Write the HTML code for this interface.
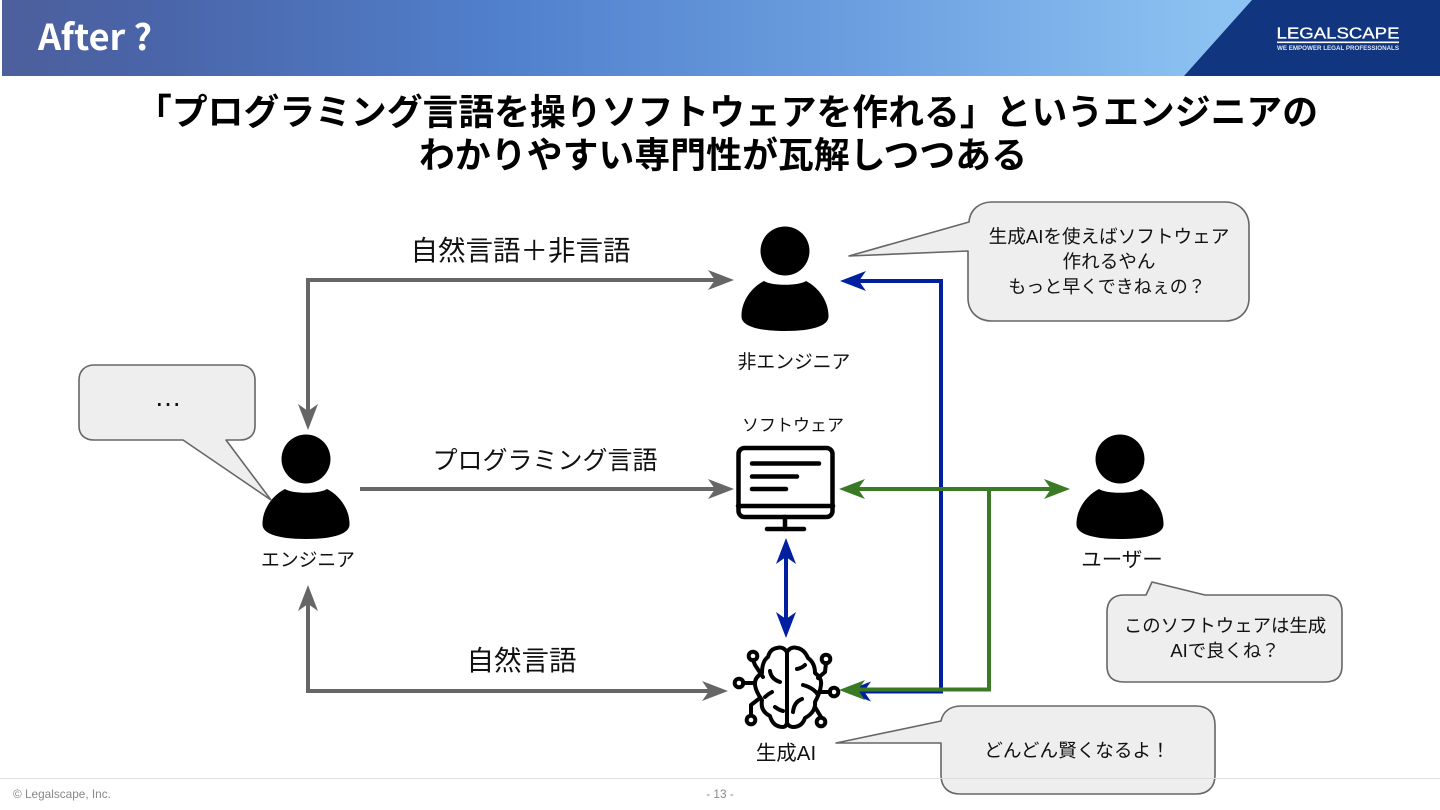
<!DOCTYPE html>
<html lang="ja"><head><meta charset="utf-8"><title>After ?</title>
<style>
html,body{margin:0;padding:0;background:#fff}
svg{display:block}
text{font-family:"Liberation Sans","Noto Sans CJK JP",sans-serif;fill:#000;text-anchor:middle}
.t{font-size:35.8px;font-weight:700;fill:#000}
.l{font-size:27.5px;font-weight:400;fill:#111}
.s{font-size:18.8px;fill:#111}
.b{font-size:18.6px;fill:#111}
.f{font-size:11.8px;fill:#888}
.bub{fill:#eee;stroke:#666;stroke-width:1.6;stroke-linejoin:round}
.g{stroke:#666;fill:none;stroke-width:4}
.bl{stroke:#00209f;fill:none;stroke-width:4}
.gr{stroke:#3a7a25;fill:none;stroke-width:4}
</style></head>
<body>
<svg width="1440" height="810" viewBox="0 0 1440 810" xmlns="http://www.w3.org/2000/svg">
<defs>
<linearGradient id="hd" x1="0" x2="1" y1="0" y2="0">
<stop offset="0" stop-color="#4d5f9c"/><stop offset=".1" stop-color="#4a64a8"/><stop offset=".35" stop-color="#5180cc"/><stop offset=".6" stop-color="#6c9fe0"/><stop offset=".85" stop-color="#8cc3f2"/>
</linearGradient>
<g id="p">
<circle cx="0" cy="0" r="24.5" fill="#000"/>
<path d="M-21 30 C-14 35 14 35 21 30 C33 36 44 50 43.500 66 C43 74 30 80 0 80 C-30 80 -43 74 -43.500 66 C-44 50 -33 36 -21 30Z" fill="#000"/>
</g>
<path id="ah" d="M0 0 L-26 -10 L-19 0 L-26 10Z"/>
</defs>

<!-- header -->
<rect x="2" y="0" width="1438" height="76" fill="url(#hd)"/>
<path d="M1252 0 H1440 V76 H1184Z" fill="#12357f"/>
<text x="38" y="50" textLength="114" lengthAdjust="spacingAndGlyphs" style="text-anchor:start;font-family:'Noto Sans CJK JP',sans-serif;font-size:35.500px;font-weight:700;fill:#fff">After ?</text>
<text x="1338" y="38.500" textLength="123" lengthAdjust="spacingAndGlyphs" style="font-size:15.500px;fill:#fff;stroke:#fff;stroke-width:.3">LEGALSCAPE</text>
<rect x="1277" y="41.500" width="122" height="1.600" fill="#fff"/>
<text x="1338" y="50" textLength="122" lengthAdjust="spacingAndGlyphs" style="font-size:6.500px;font-weight:700;fill:#dfe6f3">WE EMPOWER LEGAL PROFESSIONALS</text>

<!-- title -->
<text class="t" x="727" y="124.500" textLength="1182" lengthAdjust="spacing">「プログラミング言語を操りソフトウェアを作れる」というエンジニアの</text>
<text class="t" x="723" y="167.500" textLength="608" lengthAdjust="spacing">わかりやすい専門性が瓦解しつつある</text>

<!-- grey connectors -->
<path class="g" d="M716 280 H308 V412"/>
<use href="#ah" transform="translate(734,280)" fill="#666"/>
<use href="#ah" transform="translate(308,430) rotate(90)" fill="#666"/>
<path class="g" d="M360 489 H716"/>
<use href="#ah" transform="translate(734,489)" fill="#666"/>
<path class="g" d="M308 603 V691 H710"/>
<use href="#ah" transform="translate(308,585) rotate(-90)" fill="#666"/>
<use href="#ah" transform="translate(728,691)" fill="#666"/>

<!-- blue connectors -->
<path class="bl" d="M858 281 H941 V691.500 H858"/>
<use href="#ah" transform="translate(840,281) rotate(180)" fill="#00209f"/>
<use href="#ah" transform="translate(845,691.500) rotate(180)" fill="#00209f"/>
<path class="bl" d="M786 556 V620"/>
<use href="#ah" transform="translate(786,538) rotate(-90)" fill="#00209f"/>
<use href="#ah" transform="translate(786,638) rotate(90)" fill="#00209f"/>

<!-- green connectors -->
<path class="gr" d="M857 489 H1052"/>
<path class="gr" d="M989 489 V689.500 H857"/>
<use href="#ah" transform="translate(839,489) rotate(180)" fill="#3a7a25"/>
<use href="#ah" transform="translate(1070,489)" fill="#3a7a25"/>
<use href="#ah" transform="translate(839,690) rotate(180)" fill="#3a7a25"/>

<!-- people -->
<use href="#p" transform="translate(306,459)"/>
<use href="#p" transform="translate(785,251)"/>
<use href="#p" transform="translate(1120,459)"/>

<!-- monitor -->
<g fill="none" stroke="#000" stroke-width="4.500" stroke-linecap="round">
<rect x="738.500" y="448" width="94" height="69" rx="6"/>
<path d="M738 506 H833"/>
<path d="M785 517 V529"/>
<path d="M767 529 H804"/>
<path d="M752 463.500 H819"/>
<path d="M752 476.500 H797"/>
<path d="M752 489 H786"/>
</g>

<!-- brain -->
<g fill="none" stroke="#000" stroke-width="4" stroke-linecap="round" stroke-linejoin="round">
<path d="M787 652 Q783 646 777 648 Q770 649 768 657 Q762 661 762 673 Q754 678 755 685 Q756 692 762 700 Q760 711 770 716 Q773 727 783 727 Q786 727 787 723"/>
<path d="M787 652 Q791 646 797 648 Q804 649 808 658 Q815 663 815 673 Q822 678 821 685 Q820 693 815 702 Q816 712 805 718 Q802 727 793 727 Q789 727 787 723"/>
<path d="M787 651 V724"/>
<path d="M770 671 Q771 679 780 682"/>
<path d="M765 697 Q768 694 772 692"/>
<path d="M775 707 Q779 710 783 711"/>
<path d="M797 669 Q802 668 805 665"/>
<path d="M803 685 Q814 688 818 695"/>
<path d="M793 712 Q794 702 802 699"/>
<path d="M753 660 L755 665 L763 677"/>
<path d="M743 683 H755"/>
<path d="M751 715 V705 L760 698"/>
<path d="M826 663 L825 672 L818 678"/>
<path d="M830 692 H819"/>
<path d="M821 717 L815 707"/>
<circle cx="753" cy="656" r="4.300"/>
<circle cx="739" cy="683" r="4.300"/>
<circle cx="751" cy="720" r="4.300"/>
<circle cx="826" cy="659" r="4.300"/>
<circle cx="834" cy="692" r="4.300"/>
<circle cx="821" cy="722" r="4.300"/>
</g>

<!-- bubbles -->
<path class="bub" d="M849 256 L969 222 C970 209 980 202 992 202 H1225 C1239 202 1249 212 1249 226 V298 C1249 312 1239 321 1225 321 H992 C978 321 968 312 968 298 V251 Z"/>
<path class="bub" d="M94 365 H240 C249 365 255 371 255 380 V426 C255 435 249 440 240 440 H226 L271 500 L183 440 H94 C85 440 79 435 79 426 V380 C79 371 85 365 94 365Z"/>
<path class="bub" d="M1152 582 L1205 595 H1325 C1336 595 1342 601 1342 612 V666 C1342 677 1336 682 1325 682 H1124 C1113 682 1107 677 1107 666 V612 C1107 601 1113 595 1124 595 H1146 Z"/>
<path class="bub" d="M836 743 L941 721 C943 711 951 706 961 706 H1196 C1208 706 1215 713 1215 725 V775 C1215 787 1208 794 1196 794 H960 C948 794 941 787 941 775 V743 Z"/>

<!-- labels -->
<text class="l" x="520.500" y="260">自然言語＋非言語</text>
<text class="l" x="545" y="469" style="font-size:25px">プログラミング言語</text>
<text class="l" x="521.500" y="670">自然言語</text>
<text class="s" x="794" y="368">非エンジニア</text>
<text class="s" x="793" y="431" style="font-size:17px">ソフトウェア</text>
<text class="s" x="308" y="566">エンジニア</text>
<text class="s" x="1122" y="566.500" style="font-size:20.500px">ユーザー</text>
<text class="s" x="786" y="760" style="font-size:20.500px">生成AI</text>

<text class="b" x="1109" y="243">生成AIを使えばソフトウェア</text>
<text class="b" x="1109" y="268">作れるやん</text>
<text class="b" x="1107" y="293" style="font-size:18px">もっと早くできねぇの？</text>
<text x="168" y="406" style="font-size:27.500px;fill:#111">…</text>
<text class="b" x="1225" y="632" style="font-size:18.400px">このソフトウェアは生成</text>
<text class="b" x="1225" y="657" style="font-size:18.400px">AIで良くね？</text>
<text class="b" x="1077" y="757">どんどん賢くなるよ！</text>

<!-- footer -->
<rect x="0" y="778" width="1440" height="1" fill="#ddd"/>
<text class="f" x="13" y="798" style="text-anchor:start">© Legalscape, Inc.</text>
<text class="f" x="720" y="798">- 13 -</text>
</svg>
</body></html>
